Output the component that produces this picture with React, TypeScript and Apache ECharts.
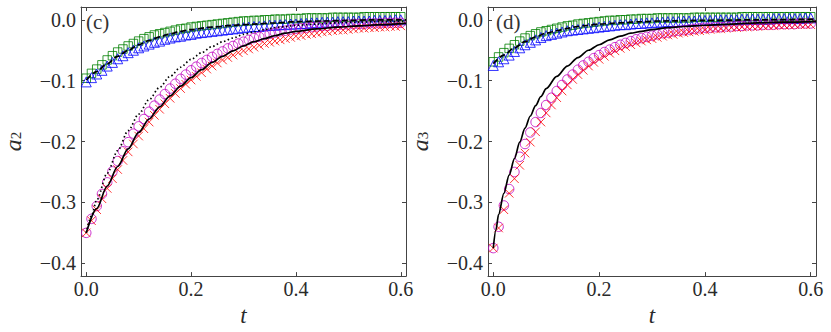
import { useEffect, useRef } from 'react';
import * as echarts from 'echarts';

// ---------- data ----------
const T = [
  0, 0.01, 0.02, 0.03, 0.04, 0.05, 0.06, 0.07, 0.08, 0.09,
  0.1, 0.11, 0.12, 0.13, 0.14, 0.15, 0.16, 0.17, 0.18, 0.19,
  0.2, 0.21, 0.22, 0.23, 0.24, 0.25, 0.26, 0.27, 0.28, 0.29,
  0.3, 0.31, 0.32, 0.33, 0.34, 0.35, 0.36, 0.37, 0.38, 0.39,
  0.4, 0.41, 0.42, 0.43, 0.44, 0.45, 0.46, 0.47, 0.48, 0.49,
  0.5, 0.51, 0.52, 0.53, 0.54, 0.55, 0.56, 0.57, 0.58, 0.59, 0.6,
];

// panel (c): a2
const C_SQUARE = [
  -0.096, -0.088, -0.081, -0.074, -0.066, -0.059, -0.053, -0.048, -0.043, -0.039,
  -0.035, -0.031, -0.028, -0.025, -0.023, -0.021, -0.019, -0.017, -0.015, -0.014,
  -0.012, -0.011, -0.010, -0.009, -0.008, -0.007, -0.006, -0.005, -0.004, -0.003,
  -0.002, -0.002, -0.001, -0.001, 0.000, 0.000, 0.001, 0.001, 0.001, 0.002,
  0.002, 0.002, 0.003, 0.003, 0.003, 0.003, 0.003, 0.004, 0.004, 0.004,
  0.004, 0.004, 0.004, 0.005, 0.005, 0.005, 0.005, 0.005, 0.005, 0.005, 0.005,
];
const C_TRIANGLE = [
  -0.102, -0.095, -0.089, -0.083, -0.076, -0.070, -0.064, -0.059, -0.054, -0.050,
  -0.046, -0.043, -0.040, -0.037, -0.035, -0.032, -0.030, -0.028, -0.027, -0.025,
  -0.024, -0.022, -0.021, -0.020, -0.019, -0.018, -0.017, -0.016, -0.015, -0.014,
  -0.013, -0.012, -0.011, -0.011, -0.010, -0.009, -0.009, -0.008, -0.008, -0.007,
  -0.007, -0.006, -0.006, -0.005, -0.005, -0.004, -0.004, -0.004, -0.003, -0.003,
  -0.003, -0.002, -0.002, -0.002, -0.002, -0.001, -0.001, -0.001, -0.001, 0.000, 0.000,
];
const C_CIRCLE = [
  -0.350, -0.327, -0.306, -0.286, -0.267, -0.249, -0.232, -0.216, -0.201, -0.187,
  -0.175, -0.163, -0.151, -0.141, -0.131, -0.122, -0.113, -0.105, -0.097, -0.090,
  -0.083, -0.077, -0.071, -0.066, -0.061, -0.056, -0.052, -0.047, -0.043, -0.039,
  -0.036, -0.033, -0.030, -0.028, -0.025, -0.023, -0.021, -0.019, -0.018, -0.016,
  -0.015, -0.014, -0.013, -0.012, -0.011, -0.010, -0.010, -0.009, -0.009, -0.008,
  -0.008, -0.007, -0.007, -0.007, -0.006, -0.006, -0.006, -0.005, -0.005, -0.005, -0.005,
];
const C_CROSS = [
  -0.350, -0.330, -0.312, -0.294, -0.277, -0.261, -0.246, -0.231, -0.217, -0.204,
  -0.191, -0.179, -0.168, -0.157, -0.147, -0.138, -0.129, -0.121, -0.113, -0.106,
  -0.099, -0.093, -0.087, -0.081, -0.076, -0.071, -0.066, -0.062, -0.058, -0.054,
  -0.051, -0.048, -0.045, -0.042, -0.039, -0.037, -0.035, -0.033, -0.031, -0.029,
  -0.027, -0.026, -0.024, -0.023, -0.022, -0.020, -0.019, -0.018, -0.017, -0.017,
  -0.016, -0.015, -0.014, -0.014, -0.013, -0.013, -0.012, -0.012, -0.011, -0.011, -0.010,
];
const C_SOLID_T = [0, 0.02, 0.04, 0.06, 0.08, 0.1, 0.12, 0.14, 0.16, 0.18, 0.2, 0.22, 0.24, 0.26, 0.28, 0.3, 0.32, 0.34, 0.36, 0.38, 0.4, 0.44, 0.48, 0.52, 0.56, 0.61];
const C_SOLID = [-0.350, -0.310, -0.273, -0.241, -0.212, -0.185, -0.163, -0.143, -0.125, -0.109, -0.095, -0.082, -0.070, -0.060, -0.051, -0.043, -0.036, -0.031, -0.026, -0.022, -0.019, -0.015, -0.012, -0.010, -0.008, -0.006];
const C_DOT_T = [0, 0.01, 0.02, 0.04, 0.06, 0.08, 0.1, 0.12, 0.14, 0.16, 0.18, 0.2, 0.22, 0.24, 0.26, 0.28, 0.3, 0.32, 0.34, 0.36, 0.38, 0.4, 0.44, 0.48, 0.52, 0.56, 0.61];
const C_DOT = [-0.350, -0.322, -0.296, -0.252, -0.215, -0.182, -0.155, -0.131, -0.111, -0.093, -0.078, -0.065, -0.054, -0.044, -0.036, -0.030, -0.024, -0.020, -0.016, -0.013, -0.011, -0.009, -0.007, -0.005, -0.004, -0.003, -0.003];
const C_DASH_T = [0, 0.02, 0.04, 0.06, 0.08, 0.1, 0.12, 0.14, 0.16, 0.18, 0.2, 0.24, 0.28, 0.32, 0.36, 0.4, 0.45, 0.5, 0.55, 0.61];
const C_DASH = [-0.099, -0.085, -0.072, -0.060, -0.050, -0.041, -0.034, -0.028, -0.023, -0.019, -0.016, -0.012, -0.009, -0.007, -0.005, -0.003, -0.002, -0.001, 0.000, 0.000];

// panel (d): a3
const D_SQUARE = [
  -0.069, -0.061, -0.054, -0.047, -0.041, -0.035, -0.030, -0.026, -0.023, -0.020,
  -0.018, -0.016, -0.014, -0.012, -0.010, -0.009, -0.007, -0.006, -0.005, -0.004,
  -0.003, -0.002, -0.001, -0.001, 0.000, 0.000, 0.001, 0.001, 0.002, 0.002,
  0.002, 0.003, 0.003, 0.003, 0.003, 0.003, 0.003, 0.003, 0.004, 0.004,
  0.004, 0.004, 0.004, 0.004, 0.004, 0.004, 0.004, 0.005, 0.005, 0.005,
  0.005, 0.005, 0.005, 0.005, 0.005, 0.005, 0.005, 0.005, 0.005, 0.005, 0.005,
];
const D_TRIANGLE = [
  -0.075, -0.069, -0.064, -0.058, -0.052, -0.046, -0.041, -0.037, -0.033, -0.029,
  -0.026, -0.024, -0.022, -0.020, -0.018, -0.017, -0.016, -0.015, -0.014, -0.013,
  -0.012, -0.011, -0.010, -0.009, -0.008, -0.008, -0.007, -0.006, -0.006, -0.005,
  -0.005, -0.004, -0.004, -0.003, -0.003, -0.003, -0.002, -0.002, -0.002, -0.001,
  -0.001, -0.001, -0.001, 0.000, 0.000, 0.000, 0.000, 0.001, 0.001, 0.001,
  0.001, 0.001, 0.001, 0.002, 0.002, 0.002, 0.002, 0.002, 0.002, 0.003, 0.003,
];
const D_CIRCLE = [
  -0.375, -0.340, -0.305, -0.278, -0.250, -0.225, -0.204, -0.185, -0.168, -0.153,
  -0.140, -0.128, -0.117, -0.107, -0.098, -0.090, -0.082, -0.075, -0.069, -0.063,
  -0.058, -0.053, -0.049, -0.045, -0.041, -0.038, -0.035, -0.032, -0.030, -0.028,
  -0.026, -0.024, -0.022, -0.021, -0.019, -0.018, -0.017, -0.016, -0.015, -0.014,
  -0.013, -0.013, -0.012, -0.012, -0.011, -0.011, -0.010, -0.010, -0.009, -0.009,
  -0.009, -0.008, -0.008, -0.008, -0.007, -0.007, -0.007, -0.007, -0.006, -0.006, -0.006,
];
const D_CROSS = [
  -0.375, -0.342, -0.312, -0.285, -0.261, -0.239, -0.219, -0.201, -0.184, -0.168,
  -0.153, -0.140, -0.128, -0.117, -0.107, -0.098, -0.090, -0.083, -0.076, -0.070,
  -0.065, -0.060, -0.055, -0.051, -0.047, -0.044, -0.041, -0.038, -0.035, -0.033,
  -0.031, -0.029, -0.027, -0.025, -0.024, -0.022, -0.021, -0.020, -0.019, -0.018,
  -0.017, -0.016, -0.015, -0.015, -0.014, -0.013, -0.013, -0.012, -0.012, -0.011,
  -0.011, -0.010, -0.010, -0.010, -0.009, -0.009, -0.009, -0.008, -0.008, -0.008, -0.008,
];
const D_SOLID_T = [0, 0.005, 0.01, 0.02, 0.03, 0.04, 0.05, 0.06, 0.07, 0.08, 0.09, 0.1, 0.12, 0.14, 0.16, 0.18, 0.2, 0.22, 0.24, 0.26, 0.28, 0.3, 0.33, 0.36, 0.4, 0.45, 0.5, 0.55, 0.61];
const D_SOLID = [-0.375, -0.345, -0.320, -0.285, -0.255, -0.228, -0.201, -0.178, -0.158, -0.141, -0.126, -0.113, -0.093, -0.076, -0.062, -0.050, -0.041, -0.033, -0.027, -0.022, -0.019, -0.016, -0.013, -0.011, -0.009, -0.007, -0.005, -0.004, -0.003];
const D_DASH_T = [0, 0.02, 0.04, 0.06, 0.08, 0.1, 0.12, 0.14, 0.16, 0.18, 0.2, 0.24, 0.28, 0.32, 0.4, 0.5, 0.61];
const D_DASH = [-0.072, -0.058, -0.046, -0.036, -0.028, -0.022, -0.018, -0.014, -0.011, -0.009, -0.007, -0.005, -0.003, -0.002, -0.001, 0.000, 0.001];

const X_TICKS = [0, 0.2, 0.4, 0.6];
const Y_TICKS = [-0.4, -0.3, -0.2, -0.1, 0];
const PANEL_LABELS = ['(c)', '(d)'];
const Y_NAMES = ['2', '3'];

// ---------- styling ----------
const FONT = 'Liberation Serif';
const AXIS_COLOR = '#444';
const TEXT_COLOR = '#2a2a2a';
const X_MIN = -0.01;
const X_MAX = 0.61;
const Y_MIN = -0.421;
const Y_MAX = 0.021;
const CROSS = 'path://M0 0L10 10M10 0L0 10';

const fmt = (v: number) => (v < -1e-9 ? '\u2212' : '') + Math.abs(v).toFixed(1);

function xAxes(grid: number) {
  const base = {
    type: 'value' as const,
    gridIndex: grid,
    min: X_MIN,
    max: X_MAX,
    splitLine: { show: false },
    axisLine: { show: true, onZero: false, lineStyle: { color: AXIS_COLOR, width: 1 } },
    axisTick: { show: true, inside: true, length: 4, customValues: X_TICKS, lineStyle: { color: AXIS_COLOR } },
  };
  return [
    {
      ...base,
      position: 'bottom',
      axisLabel: {
        show: true,
        customValues: X_TICKS,
        formatter: fmt,
        margin: 3,
        textStyle: { fontFamily: FONT, fontSize: 20, color: TEXT_COLOR },
        fontFamily: FONT,
        fontSize: 20,
        color: TEXT_COLOR,
      },
      name: 't',
      nameLocation: 'middle',
      nameGap: 18,
      nameTextStyle: { fontFamily: FONT, fontStyle: 'italic', fontSize: 23, color: TEXT_COLOR },
    },
    { ...base, position: 'top', axisLabel: { show: false } },
  ];
}

function yAxes(grid: number, sub: string) {
  const base = {
    type: 'value' as const,
    gridIndex: grid,
    min: Y_MIN,
    max: Y_MAX,
    splitLine: { show: false },
    axisLine: { show: true, onZero: false, lineStyle: { color: AXIS_COLOR, width: 1 } },
    axisTick: { show: true, inside: true, length: 4, customValues: Y_TICKS, lineStyle: { color: AXIS_COLOR } },
  };
  return [
    {
      ...base,
      position: 'left',
      axisLabel: {
        show: true,
        customValues: Y_TICKS,
        formatter: fmt,
        margin: 5,
        fontFamily: FONT,
        fontSize: 20,
        color: TEXT_COLOR,
      },
      name: `{i|a}{s|${sub}}`,
      nameLocation: 'middle',
      nameRotate: 90,
      nameGap: 50,
      nameTextStyle: {
        fontFamily: FONT,
        rich: {
          i: { fontFamily: FONT, fontStyle: 'italic', fontSize: 24, color: TEXT_COLOR, padding: [0, 0, 6, 0] },
          s: { fontFamily: FONT, fontSize: 15, color: TEXT_COLOR },
        },
      },
    },
    { ...base, position: 'right', axisLabel: { show: false } },
  ];
}

function pairs(xs: number[], ys: number[]) {
  return xs.map((x, i) => [x, ys[i]]);
}

function panelSeries(
  axis: number,
  sq: number[],
  tri: number[],
  circ: number[],
  cross: number[],
  lines: { t: number[]; v: number[]; type: any }[],
) {
  const hollow = (c: string) => ({ color: 'rgba(0,0,0,0)', borderColor: c, borderWidth: 1 });
  const scatters = [
    { symbol: 'rect', size: 8.5, color: '#008000', data: sq },
    { symbol: 'triangle', size: 10, color: '#0000ff', data: tri },
    { symbol: 'circle', size: 9.5, color: '#bf00bf', data: circ },
    { symbol: CROSS, size: 8.5, color: '#ff0000', data: cross },
  ].map((s) => ({
    type: 'scatter',
    xAxisIndex: axis,
    yAxisIndex: axis,
    symbol: s.symbol,
    symbolSize: s.size,
    itemStyle: hollow(s.color),
    data: pairs(T, s.data),
    silent: true,
  }));
  const ls = lines.map((l) => ({
    type: 'line',
    xAxisIndex: axis,
    yAxisIndex: axis,
    showSymbol: false,
    smooth: 0.3,
    smoothMonotone: 'x',
    lineStyle: { color: '#000', width: 1.7, type: l.type },
    data: pairs(l.t, l.v),
    silent: true,
  }));
  return [...scatters, ...ls];
}

export default function App() {
  const ref = useRef<HTMLDivElement>(null);
  useEffect(() => {
    if (!ref.current) return;
    const chart = echarts.init(ref.current, null, { renderer: 'svg' });
    const option = {
      animation: false,
      backgroundColor: '#fff',
      textStyle: { fontFamily: FONT },
      grid: [
        { left: 78, top: 7, width: 328, height: 270 },
        { left: 488, top: 7, width: 328, height: 270 },
      ],
      xAxis: [...xAxes(0), ...xAxes(1)],
      yAxis: [...yAxes(0, Y_NAMES[0]), ...yAxes(1, Y_NAMES[1])],
      series: [
        ...panelSeries(0, C_SQUARE, C_TRIANGLE, C_CIRCLE, C_CROSS, [
          { t: C_DOT_T, v: C_DOT, type: [1.5, 2.5] },
          { t: C_DASH_T, v: C_DASH, type: [6, 3] },
          { t: C_SOLID_T, v: C_SOLID, type: 'solid' },
        ]),
        ...panelSeries(2, D_SQUARE, D_TRIANGLE, D_CIRCLE, D_CROSS, [
          { t: D_DASH_T, v: D_DASH, type: [6, 3] },
          { t: D_SOLID_T, v: D_SOLID, type: 'solid' },
        ]),
      ],
      graphic: [
        { type: 'text', x: 86, y: 22, style: { text: PANEL_LABELS[0], fontFamily: FONT, fontSize: 21, fill: '#333', verticalAlign: 'middle' } },
        { type: 'text', x: 496, y: 22, style: { text: PANEL_LABELS[1], fontFamily: FONT, fontSize: 21, fill: '#333', verticalAlign: 'middle' } },
      ],
    };
    chart.setOption(option as any);
    return () => chart.dispose();
  }, []);
  return (
    <div
      ref={ref}
      style={{ position: 'fixed', left: 0, top: 0, width: 831, height: 332, background: '#fff' }}
    />
  );
}
